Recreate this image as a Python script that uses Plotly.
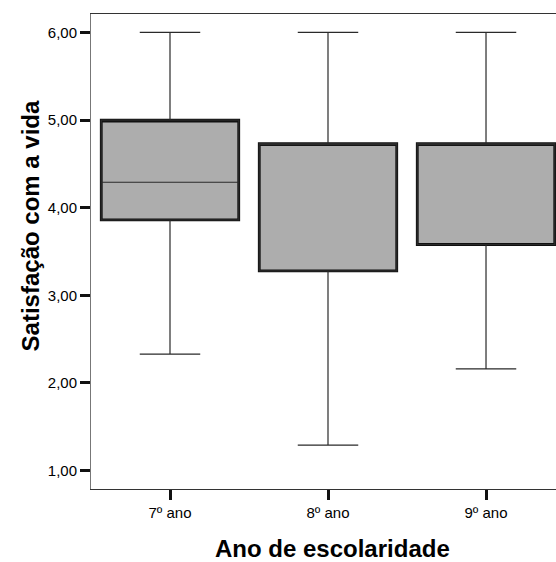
import plotly.graph_objects as go

categories = ["7º ano", "8º ano", "9º ano"]
lower_whisker = [2.33, 1.29, 2.16]
q1 = [3.86, 3.28, 3.58]
median = [4.29, 4.73, 4.73]
q3 = [5.00, 4.73, 4.73]
upper_whisker = [6.00, 6.00, 6.00]

y_tickvals = [1, 2, 3, 4, 5, 6]
y_ticktext = ["1,00", "2,00", "3,00", "4,00", "5,00", "6,00"]

x_title = "Ano de escolaridade"
y_title = "Satisfação com a vida"

FONT = "Liberation Sans, Arial, sans-serif"

fig = go.Figure()

# thick box outline with fill
fig.add_trace(go.Box(
    x=categories, q1=q1, median=q3, q3=q3,
    lowerfence=q1, upperfence=q3,
    fillcolor="#adadad",
    line=dict(color="#111111", width=2.8),
    whiskerwidth=0, width=0.87, boxpoints=False,
    hoverinfo="skip", showlegend=False,
))
# whiskers, caps and median
fig.add_trace(go.Box(
    x=categories, q1=q1, median=median, q3=q3,
    lowerfence=lower_whisker, upperfence=upper_whisker,
    fillcolor="rgba(0,0,0,0)",
    line=dict(color="#2a2a2a", width=1.2),
    whiskerwidth=0.44, width=0.87, boxpoints=False,
    showlegend=False,
))

fig.update_layout(
    width=556, height=562,
    margin=dict(l=91, r=0, t=14, b=73),
    paper_bgcolor="white", plot_bgcolor="white",
    boxmode="overlay",
    font=dict(family=FONT, color="black"),
    xaxis=dict(
        type="category", range=[-0.5, 2.443],
        showgrid=False, zeroline=False,
        showline=True, linecolor="#333333", linewidth=1.2, mirror=True,
        ticks="outside", ticklen=10, tickwidth=3, tickcolor="#111111",
        tickfont=dict(size=15, family=FONT, color="black"),
    ),
    yaxis=dict(
        range=[0.79, 6.21],
        tickvals=y_tickvals, ticktext=y_ticktext,
        showgrid=False, zeroline=False,
        showline=True, linecolor="#777777", linewidth=1,
        ticks="outside", ticklen=10, tickwidth=3, tickcolor="#111111",
        tickfont=dict(size=15, family=FONT, color="black"),
    ),
    annotations=[
        dict(text=f"<b>{y_title}</b>", xref="paper", yref="paper",
             x=-0.131, y=0.553, textangle=-90, showarrow=False,
             font=dict(size=24, family=FONT, color="black"),
             xanchor="center", yanchor="middle"),
        dict(text=f"<b>{x_title}</b>", xref="paper", yref="paper",
             x=0.52, y=-0.125, showarrow=False,
             font=dict(size=24, family=FONT, color="black"),
             xanchor="center", yanchor="middle"),
    ],
)

fig.write_html(
    "out.html",
    config={"displayModeBar": False},
    post_script="document.body.style.margin='0';document.body.style.overflow='hidden';",
)
